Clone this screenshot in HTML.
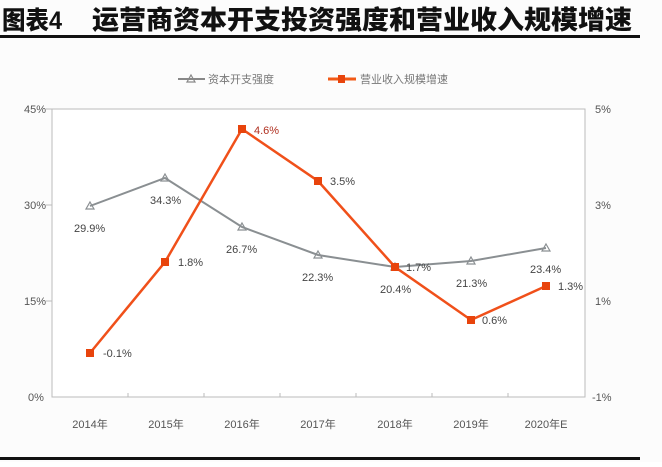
<!DOCTYPE html>
<html><head><meta charset="utf-8"><style>
html,body{margin:0;padding:0;background:#fff;}
body{width:662px;height:462px;overflow:hidden;}
svg text{font-family:"Liberation Sans","Noto Sans CJK SC",sans-serif;}
</style></head><body>
<svg width="662" height="462" xmlns="http://www.w3.org/2000/svg">
<rect width="662" height="462" fill="#fcfcfc"/>
<text x="2" y="29" font-size="25" font-weight="900" fill="#111" font-family="'Noto Sans CJK SC',sans-serif" textLength="60" lengthAdjust="spacingAndGlyphs">图表4</text>
<text x="92" y="29" font-size="26" font-weight="900" fill="#111" font-family="'Noto Sans CJK SC',sans-serif" textLength="540" lengthAdjust="spacingAndGlyphs">运营商资本开支投资强度和营业收入规模增速</text>
<rect x="0" y="35" width="640" height="3" fill="#111"/>
<rect x="0" y="457" width="640" height="3" fill="#111"/>
<!-- legend -->
<line x1="178" y1="79" x2="205" y2="79" stroke="#888" stroke-width="2"/>
<path d="M191 75 L195 82 L187 82Z" fill="none" stroke="#888" stroke-width="1.2"/>
<text x="208" y="83" font-size="11" fill="#777">资本开支强度</text>
<line x1="328" y1="79" x2="356" y2="79" stroke="#f25a16" stroke-width="3"/>
<rect x="338" y="75" width="7" height="8" fill="#e8440c"/>
<text x="360" y="83" font-size="11" fill="#777">营业收入规模增速</text>
<!-- plot frame -->
<rect x="52" y="109" width="533" height="288" fill="#fff" stroke="#bbb" stroke-width="1"/>
<g stroke="#bbb"><line x1="46" y1="205" x2="52" y2="205"/><line x1="46" y1="301" x2="52" y2="301"/><line x1="46" y1="109" x2="52" y2="109"/>
<line x1="128" y1="393" x2="128" y2="397"/><line x1="204" y1="393" x2="204" y2="397"/><line x1="280" y1="393" x2="280" y2="397"/><line x1="356" y1="393" x2="356" y2="397"/><line x1="432" y1="393" x2="432" y2="397"/><line x1="508" y1="393" x2="508" y2="397"/></g>
<g font-size="11" fill="#555">
<text x="24" y="113">45%</text><text x="24" y="209">30%</text><text x="24" y="305">15%</text><text x="28" y="401">0%</text>
<text x="595" y="113">5%</text><text x="595" y="209">3%</text><text x="595" y="305">1%</text><text x="592" y="401">-1%</text>
<g text-anchor="middle"><text x="90" y="428">2014年</text><text x="166" y="428">2015年</text><text x="242" y="428">2016年</text><text x="318" y="428">2017年</text><text x="395" y="428">2018年</text><text x="471" y="428">2019年</text><text x="546" y="428">2020年E</text></g>
</g>
<!-- gray series -->
<polyline points="90,206 165,178 242,227 318,255 395,267 471,261 546,248" fill="none" stroke="#8a8f92" stroke-width="2"/>
<g fill="none" stroke="#8a8f92" stroke-width="1.2">
<path d="M90 202 L94 209 L86 209Z"/><path d="M165 174 L169 181 L161 181Z"/><path d="M242 223 L246 230 L238 230Z"/><path d="M318 251 L322 258 L314 258Z"/><path d="M395 263 L399 270 L391 270Z"/><path d="M471 257 L475 264 L467 264Z"/><path d="M546 244 L550 251 L542 251Z"/></g>
<!-- orange series -->
<polyline points="90,353 165,262 242,129 318,181 395,267 471,320 546,286" fill="none" stroke="#f0501a" stroke-width="2.5"/>
<g fill="#e8440c"><rect x="86" y="349" width="8" height="8"/><rect x="161" y="258" width="8" height="8"/><rect x="238" y="125" width="8" height="8"/><rect x="314" y="177" width="8" height="8"/><rect x="391" y="263" width="8" height="8"/><rect x="467" y="316" width="8" height="8"/><rect x="542" y="282" width="8" height="8"/></g>
<g font-size="11" fill="#444">
<text x="74" y="232">29.9%</text><text x="150" y="204">34.3%</text><text x="226" y="253">26.7%</text><text x="302" y="281">22.3%</text><text x="380" y="293">20.4%</text><text x="456" y="287">21.3%</text><text x="530" y="273">23.4%</text>
<text x="103" y="357">-0.1%</text><text x="178" y="266">1.8%</text><text x="254" y="134" fill="#b03020">4.6%</text><text x="330" y="185">3.5%</text><text x="406" y="271">1.7%</text><text x="482" y="324">0.6%</text><text x="558" y="290">1.3%</text>
</g>
</svg>
</body></html>
